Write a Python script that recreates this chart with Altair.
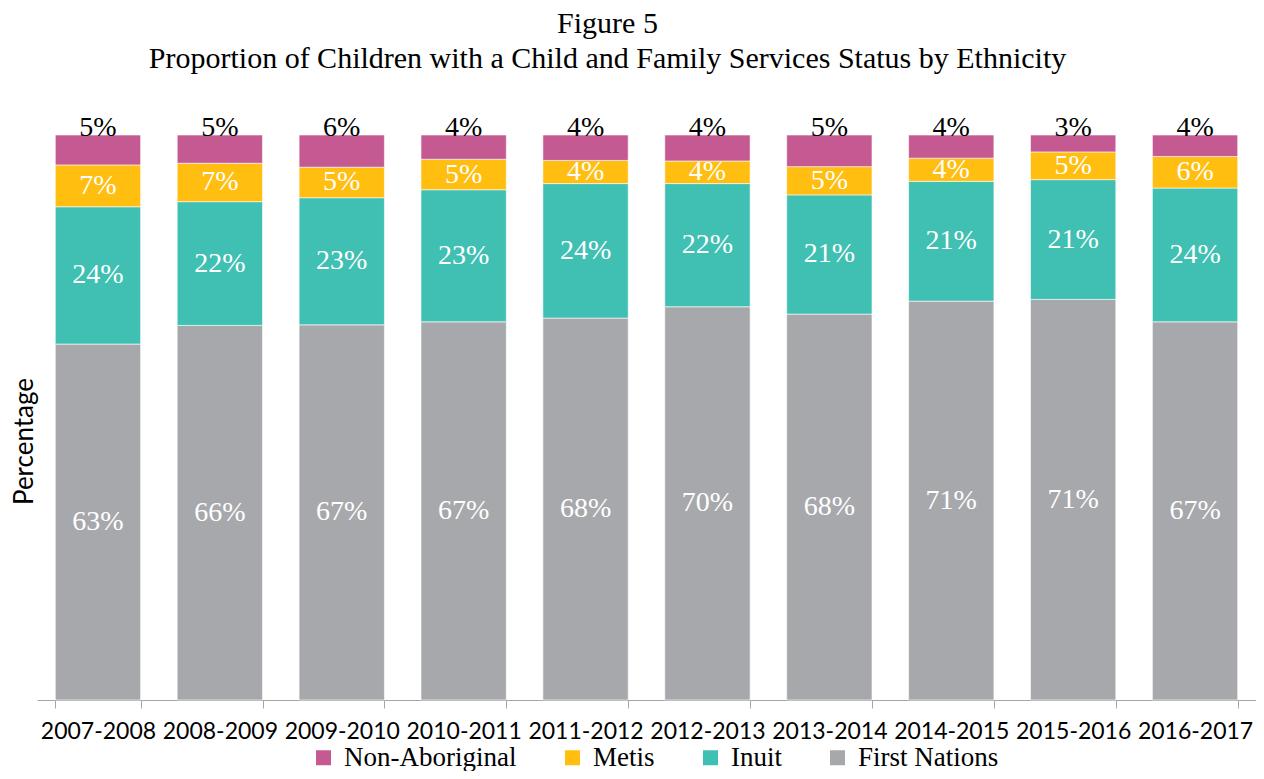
import altair as alt
import pandas as pd

years = ["2007-2008", "2008-2009", "2009-2010", "2010-2011", "2011-2012",
         "2012-2013", "2013-2014", "2014-2015", "2015-2016", "2016-2017"]
# segment shares (percent)
first_nations = [63.0, 66.3, 66.4, 67.0, 67.6, 69.6, 68.3, 70.6, 70.9, 67.0]
inuit = [24.3, 21.9, 22.5, 23.4, 23.8, 21.8, 21.1, 21.2, 21.2, 23.7]
metis = [7.4, 6.8, 5.4, 5.4, 4.1, 4.0, 5.0, 4.1, 4.9, 5.6]
non_aboriginal = [5.3, 5.0, 5.7, 4.3, 4.5, 4.6, 5.6, 4.1, 3.0, 3.8]
# data labels as printed on the chart
first_nations_lbl = [63, 66, 67, 67, 68, 70, 68, 71, 71, 67]
inuit_lbl = [24, 22, 23, 23, 24, 22, 21, 21, 21, 24]
metis_lbl = [7, 7, 5, 5, 4, 4, 5, 4, 5, 6]
non_aboriginal_lbl = [5, 5, 6, 4, 4, 4, 5, 4, 3, 4]

legend_order = ["Non-Aboriginal", "Metis", "Inuit", "First Nations"]
colors = ["#C55A93", "#FFBE10", "#40BFB3", "#A7A8AC"]
stack_rank = {"First Nations": 0, "Inuit": 1, "Metis": 2, "Non-Aboriginal": 3}

rows = []
for group, vals, lbls in [("First Nations", first_nations, first_nations_lbl),
                          ("Inuit", inuit, inuit_lbl),
                          ("Metis", metis, metis_lbl),
                          ("Non-Aboriginal", non_aboriginal, non_aboriginal_lbl)]:
    for y, v, l in zip(years, vals, lbls):
        rows.append({"year": y, "group": group, "value": v,
                     "rank": stack_rank[group], "label": f"{l}%"})
df = pd.DataFrame(rows)

SERIF = "Liberation Serif"
SANS = "Lato"

base = alt.Chart(df).transform_stack(
    stack="value", groupby=["year"], as_=["y0", "y1"], offset="normalize",
    sort=[alt.SortField("rank", order="ascending")]
).transform_calculate(ymid="(datum.y0 + datum.y1) / 2")

x_enc = alt.X("year:N", sort=years, title=None,
              scale=alt.Scale(paddingInner=0.3, paddingOuter=0.15),
              axis=alt.Axis(tickBand="extent", labelAngle=0, labelFont=SANS,
                            labelFontSize=23, labelColor="black", labelPadding=12,
                            tickSize=8, tickColor="#A6A6A6", domainColor="#A6A6A6",
                            labelFlush=False))

bars = base.mark_bar(stroke="white", strokeWidth=0.6).encode(
    x=x_enc,
    y=alt.Y("y0:Q", scale=alt.Scale(domain=[0, 1]),
            axis=alt.Axis(title="Percentage", labels=False, ticks=False, domain=False,
                          grid=False, titleFont=SANS, titleFontSize=26,
                          titleFontWeight="normal", titleColor="black",
                          titleX=-13, titleY=306, titleBaseline="middle")),
    y2="y1:Q",
    color=alt.Color("group:N", scale=alt.Scale(domain=legend_order, range=colors),
                    legend=alt.Legend(title=None, orient="none", legendX=273, legendY=609,
                                      direction="horizontal", columns=4,
                                      symbolType="square", symbolSize=225,
                                      symbolStrokeWidth=0, labelFont=SERIF,
                                      labelFontSize=27, labelColor="black",
                                      labelLimit=400, columnPadding=42, labelOffset=7)),
)

inner = base.transform_filter("datum.group != 'Non-Aboriginal'").mark_text(
    font=SERIF, fontSize=28, color="white", baseline="middle"
).encode(x=alt.X("year:N", sort=years), y="ymid:Q", text="label:N")

top = base.transform_filter("datum.group == 'Non-Aboriginal'").mark_text(
    font=SERIF, fontSize=28, color="black", baseline="alphabetic", dy=1
).encode(x=alt.X("year:N", sort=years), y="y1:Q", text="label:N")

chart = alt.layer(bars, inner, top).properties(
    width=1219, height=565,
    title=alt.Title(["Figure 5",
                     "Proportion of Children with a Child and Family Services Status by Ethnicity"],
                    font=SERIF, fontSize=30, fontWeight="normal", color="black",
                    anchor="middle", dx=-39, lineHeight=35, offset=40),
    autosize=alt.AutoSizeParams(type="none"),
    padding={"left": 29, "top": 127, "right": 0, "bottom": 71},
    background="white",
).configure_view(stroke=None)

chart.save("out.html", embed_options={"renderer": "svg", "actions": False})
